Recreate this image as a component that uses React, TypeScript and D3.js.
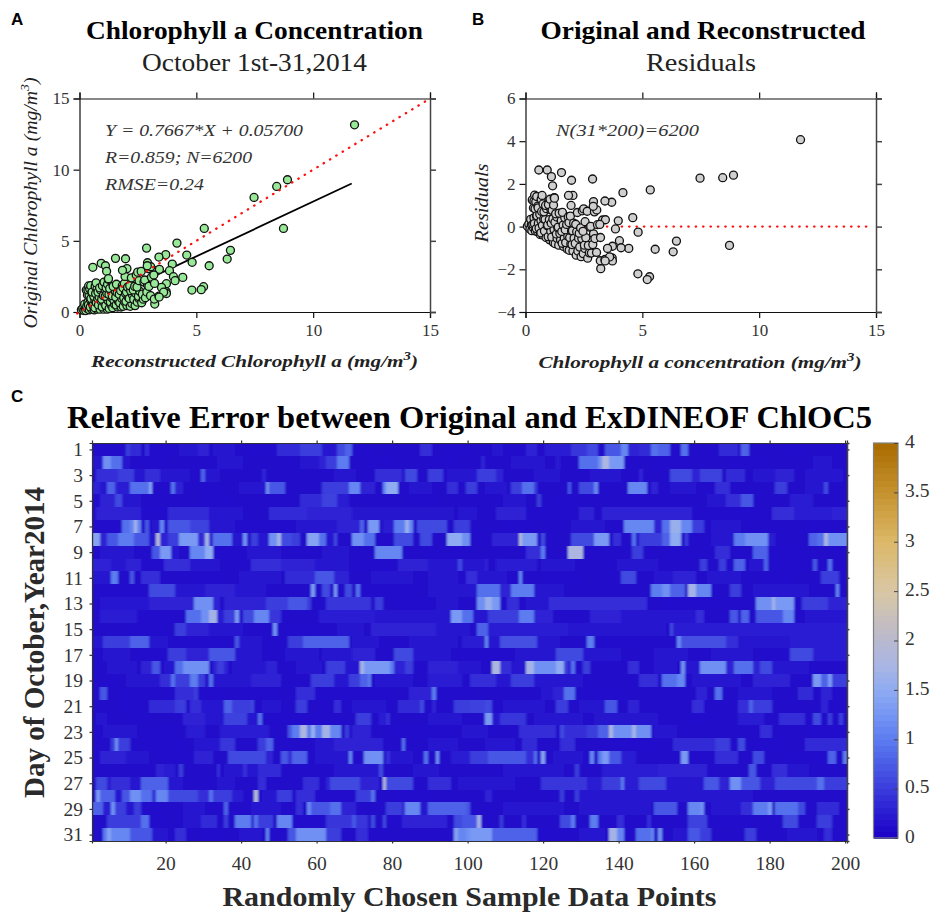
import React, { useEffect, useRef } from 'react';
import * as d3 from 'd3';

const reconstructed = [
  .08,.14, .19,.25,.22, .27,.33,.31,.36,.29, .34, .42,.38,.47,.41,.36,.39,
  .52,.46,.55,.49,.57,.44,.53,.48, .63,.58,.66,.61,.54,.67, .74,.66,.72,.78,.69,.75,.71,
  .88,.81,.93,.84,.79,.9,.86, 1.04,.97,1.08,.95,1.02,1.09,.98,1.05, 1.19,1.12,1.22,1.1,1.17,1.14,1.2,1.23,
  1.27,1.35,1.32,1.38,1.26,1.34,1.29, 1.42,1.5,1.47,1.4,1.53,1.44, 1.63,1.57,1.66,1.55,1.61,1.68,1.58,
  1.78,1.72,1.81,1.7,1.76,1.83, 1.87,1.94,1.89,1.97,1.86,1.92,1.95, 2.03,1.99,2.08,2.01,2.06,
  2.17,2.24,2.13,2.27,2.19,2.15,2.22, 2.38,2.32,2.41,2.3,2.36,2.43, 2.47,2.54,2.52,2.58,2.46,2.55,2.49,
  2.66,2.73,2.69,2.76,2.64, 2.82,2.88,2.91,2.79, 3.04,2.97,3.08,2.95,
  11.77,8.9,8.44,7.47,8.73,5.34,4.17,6.46,6.32,5.55,4.59,4.82,2.87,3.69,3.4,1.54,1.97,.93,.57,1.11,1.16,1.24,
  2.91,3.97,3.85,4.42,4.02,4.09,4.81,5.31,5.21,3.22,3.2,3.4,3.71,3.72,3.51,3.21,3.3,3.05,3.42,3.18,
  2.03,1.84,2.9,3.72,3.6,3.41,
];
const original = [
  .15,.25, .1,.3,.55, .1,.25,.4,.7,1.54, 1.19, .15,.5,.85,1.2,1.55,1.83,
  .2,.35,.6,.95,1.3,1.6,1.4,1.85, .15,.45,.8,1.1,1.4,1.8, .2,.3,.65,.95,1.3,1.65,2.05,
  .2,.5,.75,1.05,1.4,1.55,1.7, .2,.35,.6,.9,1.15,1.6,1.85,2.1, .2,.45,.8,1.1,1.3,1.7,1.95,2.3,
  .25,.5,.7,1,1.25,1.5,1.65, .3,.55,.85,1.15,1.45,1.8, .35,.5,.75,1.05,1.35,1.7,1.95,
  .35,.65,.95,1.25,1.5,1.85, .4,.7,1,1.3,1.7,2,2.5, .45,.75,1.05,1.4,1.75,
  .4,.6,.95,1.2,1.5,1.85,2.4, .45,.9,1.3,1.55,1.8,2.6, .7,.95,1.1,1.45,1.75,2.2,2.8,
  .65,.9,1.25,2.1,2.85, 1,1.4,1.9,2.25, 1.15,1.8,2.45,3.05,
  13.15,9.29,8.82,8.05,5.87,5.87,4.84,4.33,3.72,3.25,4,3.49,4.49,4.03,3.86,3.77,3.74,3.42,3.14,3.25,2.86,2.34,
  3.46,3.37,2.9,2.43,2.48,2.2,1.54,1.78,1.57,.56,.91,1.12,1.43,1.99,1.73,2.01,2.9,3.18,3,2.6,
  3.05,2.93,3.25,1.3,1.39,1.05,
];
const residuals = [
  .02,.12, -.11,.09,.34, -.19,-.04,.11,.41,1.25, .87, -.21,.14,.49,.84,1.19,1.47,
  -.24,-.09,.16,.51,.86,1.16,.96,1.41, -.37,-.07,.28,.58,.88,1.28, -.39,-.29,.06,.36,.71,1.06,1.46,
  -.51,-.21,.04,.34,.69,.84,.99, -.62,-.47,-.22,.08,.33,.78,1.03,1.28, -.74,-.49,-.14,.16,.36,.76,1.01,1.36,
  -.8,-.55,-.35,-.05,.2,.45,.6, -.87,-.62,-.32,-.02,.28,.63, -.93,-.78,-.53,-.23,.07,.42,.67,
  -1.05,-.75,-.45,-.15,.1,.45, -1.11,-.81,-.51,-.21,.19,.49,.99, -1.14,-.84,-.54,-.19,.16,
  -1.34,-1.14,-.79,-.54,-.24,.11,.66, -1.41,-.96,-.56,-.31,-.06,.74, -1.27,-1.02,-.87,-.52,-.22,.23,.83,
  -1.48,-1.23,-.88,-.03,.72, -1.24,-.84,-.34,.01, -1.21,-.56,.09,.69,
  4.07,2.41,2.29,2.27,-.88,1.72,1.59,-.68,-1.18,-1.06,.42,-.26,2.23,1.14,1.2,2.53,2.17,2.65,2.65,2.34,1.91,1.33,
  1.17,.27,-.11,-1.02,-.66,-.99,-2.21,-2.35,-2.48,-1.97,-1.6,-1.54,-1.47,-.92,-1.02,-.51,.31,.78,.32,.1,
  1.46,1.46,.95,-1.61,-1.42,-1.61,
];

const fitLine = [[0, 0.057], [11.65, 9.03]];
const oneToOne = [[-0.1, -0.1], [15, 15]];
const zeroLine = [[0, 0], [14.75, 0]];

const scatterTicks = [0, 5, 10, 15];
const residualTicks = [-4, -2, 0, 2, 4, 6];
const sampleTicks = [20, 40, 60, 80, 100, 120, 140, 160, 180, 200];
const dayTicks = d3.range(1, 32, 2);
const barTicks = [0, 0.5, 1, 1.5, 2, 2.5, 3, 3.5, 4];

const stops = [0, .25, .5, .75, 1, 1.25, 1.5, 1.75, 2, 2.5, 3, 3.5, 4];
const stopColors = ['#1c00c6', '#2a1cd2', '#3a3cdc', '#4a5ce6', '#5c7cf0', '#7595f4', '#8fabf2', '#a9b5e4', '#b9b9d0',
  '#d9c7a4', '#dcb868', '#c6922e', '#a86a00'];

const cellBase = 0.09;
// one list per day: [first column, last column, relative error]
const errorRows: number[][][] = [
  [[16,21,.15],[24,28,.18],[35,38,.2],[10,10,.5],[11,13,.35],[15,15,.4],[29,31,.3],[33,34,.2],[42,49,.15],[50,55,.35],[56,61,.5],[62,65,.2],[66,67,.6],[68,69,.8],[70,75,.15],[88,90,.4],[95,100,.15],[107,109,.2],[116,118,.3],[121,127,.25],[128,131,.45],[132,134,.6],[137,140,.7],[141,142,1.1],[143,145,.3],[146,148,.35],[149,150,.9],[151,153,.8],[157,158,.9],[167,171,.35],[173,174,.8],[185,190,.15]],
  [[1,3,.2],[4,5,1.2],[6,8,.9],[9,10,.2],[14,20,.15],[34,40,.18],[56,60,.2],[61,62,.3],[63,65,.5],[66,68,1],[74,80,.15],[92,97,.15],[104,104,.3],[112,120,.18],[124,124,.25],[130,134,.9],[135,135,1.2],[136,137,1.8],[138,141,1.3],[150,158,.15],[170,178,.15],[192,196,.2]],
  [[2,7,.4],[8,11,.5],[12,14,.2],[15,18,.4],[19,26,.2],[30,30,.8],[31,34,.18],[46,46,.3],[65,70,.18],[76,82,.4],[84,86,.6],[90,93,.5],[95,102,.2],[103,107,.5],[108,109,.3],[118,124,.2],[133,140,.2],[146,146,.3],[154,159,.6],[160,161,.3],[162,167,.55],[169,173,.35],[176,181,.18],[182,186,.3],[190,199,.2]],
  [[1,2,.3],[3,4,.2],[5,6,.8],[7,7,.3],[8,10,.25],[11,15,.9],[16,16,1.4],[22,22,.9],[23,24,.3],[30,33,.15],[40,46,.18],[47,47,1.2],[48,51,.7],[62,68,.5],[69,71,1.1],[72,75,.3],[78,78,1.1],[79,81,1.5],[85,90,.18],[95,97,.4],[100,102,.5],[105,110,.2],[112,114,.5],[115,117,.9],[118,118,.5],[127,127,.7],[130,133,.6],[134,134,1.1],[143,147,1.1],[149,150,.3],[154,160,.2],[166,169,.4],[182,184,.5],[190,194,.18],[195,195,.6]],
  [[3,6,.3],[7,8,.6],[9,13,.2],[30,38,.12],[56,61,.35],[62,65,.55],[66,68,.25],[85,92,.15],[110,115,.2],[119,119,.5],[122,128,.13],[164,168,.2],[169,172,.4],[173,175,.7],[186,191,.25]],
  [[2,13,.3],[14,20,.15],[21,31,.35],[32,40,.2],[48,57,.35],[58,69,.3],[70,96,.16],[98,102,.2],[108,115,.3],[116,128,.15],[130,133,.3],[136,159,.3],[160,180,.13],[181,186,.4],[187,196,.25],[197,200,.3]],
  [[1,8,.15],[9,10,.9],[11,11,1.1],[12,12,1.7],[13,13,1.1],[15,15,.7],[17,18,.2],[19,19,1.1],[21,26,.7],[27,31,.55],[32,38,.2],[40,52,.15],[55,65,.18],[66,71,.3],[72,72,.8],[74,76,1.3],[78,80,.25],[81,83,1],[84,84,1.6],[85,85,1.1],[87,94,.6],[97,100,.5],[110,118,.15],[128,136,.18],[142,149,1.1],[150,151,.3],[152,153,.9],[154,156,1.6],[157,159,1.1],[160,162,.5],[165,172,.2],[190,195,.15]],
  [[1,2,1.4],[3,4,.3],[5,7,.7],[8,11,1],[12,15,.7],[16,17,.2],[18,18,1.9],[19,20,.3],[21,23,.5],[24,28,1.3],[29,29,.3],[30,30,.4],[31,31,1.7],[32,32,.3],[33,37,.9],[38,40,.2],[41,41,1.2],[43,44,.5],[45,47,.18],[48,49,1.2],[50,50,1.7],[51,53,.6],[54,55,.5],[58,60,1.4],[61,62,.9],[63,64,.2],[65,65,.6],[70,72,1.2],[73,75,.9],[81,85,.6],[88,90,.6],[95,98,1.5],[99,100,1.2],[107,113,.3],[114,114,1.9],[115,118,1.3],[120,120,.6],[128,133,.6],[134,137,1.3],[139,140,.4],[144,144,.9],[146,151,.5],[152,153,.8],[154,156,1.5],[158,158,.5],[165,170,.2],[171,173,1],[174,179,1.2],[180,181,.25],[191,192,.8],[193,194,.9],[195,195,1.8],[196,200,1.2]],
  [[3,11,.2],[17,18,.7],[19,21,1.3],[22,23,.2],[27,30,1.1],[31,32,1.5],[33,40,.15],[42,50,.2],[62,68,.18],[76,82,1.1],[90,98,.15],[116,119,.4],[120,120,1],[127,130,1.8],[144,146,.5],[152,160,.15],[166,169,.4],[176,179,.8],[180,190,.15]],
  [[1,5,.3],[6,9,.2],[10,13,.3],[14,20,.15],[20,26,.4],[27,34,.2],[43,50,.4],[51,59,.3],[60,68,.2],[70,80,.15],[82,89,.3],[90,97,.2],[98,98,.6],[99,105,.2],[105,105,.3],[108,118,.25],[120,128,.2],[140,150,.2],[162,163,.5],[167,168,.5],[171,173,.8],[175,178,.2],[179,179,.8],[181,190,.15],[192,192,.7],[196,196,.9]],
  [[1,5,.2],[6,7,1],[11,11,.7],[14,18,.4],[28,34,.15],[40,50,.2],[52,59,.35],[60,64,.7],[65,68,.3],[75,85,.2],[90,97,.18],[100,102,.4],[103,110,.2],[114,114,1.1],[120,130,.13],[141,144,.6],[150,154,.2],[155,160,.3],[164,172,.2],[178,186,.15],[194,198,.5]],
  [[1,14,.13],[16,22,.6],[23,30,.2],[31,38,.3],[39,46,.2],[59,59,1.3],[62,63,.6],[65,65,1.3],[68,69,.6],[71,71,.9],[72,85,.15],[90,102,.2],[103,108,.9],[109,111,.3],[112,117,1],[118,125,.2],[149,151,1],[152,153,1.2],[154,157,.8],[159,160,1.7],[161,164,1.1],[170,172,.5],[176,190,.18],[198,198,1.1]],
  [[3,15,.22],[16,27,.3],[28,32,1.2],[33,34,.3],[36,46,.3],[47,52,.5],[53,57,.7],[58,58,.5],[63,74,.45],[76,77,.5],[81,90,.15],[92,97,.2],[103,104,1.2],[105,106,1.6],[107,108,1.3],[111,113,.4],[116,121,.2],[122,147,.4],[152,165,.15],[177,180,1.2],[181,181,1.7],[182,186,1.3],[189,195,.5],[196,200,.3]],
  [[3,12,.25],[13,22,.15],[26,29,.9],[30,31,1.2],[32,33,1.7],[34,35,.25],[36,38,.5],[39,39,1.3],[41,43,.6],[44,47,1.1],[48,50,.45],[52,60,.1],[61,75,.25],[76,95,.2],[96,98,1.3],[99,99,.9],[100,101,.9],[102,105,.2],[106,113,.5],[114,117,1],[118,122,.3],[133,140,.3],[141,160,.2],[161,162,.4],[170,171,.7],[173,174,.8],[177,183,.7],[184,186,1.1],[190,200,.2]],
  [[10,20,.15],[23,25,.5],[26,31,.3],[32,40,.18],[49,49,1.2],[52,60,.15],[66,72,.2],[75,91,.3],[92,100,.2],[103,105,.8],[106,126,.25],[127,152,.18],[154,154,.6],[155,200,.25]],
  [[1,3,.2],[4,10,.5],[11,15,.8],[16,20,.2],[21,36,.15],[39,39,.7],[40,45,.2],[53,57,.5],[57,68,.8],[70,76,.2],[85,97,.2],[99,104,.25],[105,105,1.1],[106,108,.2],[109,118,.65],[119,124,.2],[132,133,1],[135,145,.15],[156,156,1.1],[157,168,.65],[169,171,.4],[172,185,.2],[186,200,.25]],
  [[4,10,.2],[12,20,.15],[21,25,.5],[26,31,.3],[32,38,.7],[39,45,.2],[52,60,.2],[62,70,.2],[70,75,.3],[81,85,.6],[86,95,.2],[98,110,.15],[113,123,.2],[124,130,.6],[131,140,.2],[150,158,.2],[165,175,.2],[178,185,.15],[186,191,.6],[192,200,.25]],
  [[5,12,.18],[14,16,.3],[17,18,.7],[20,22,.2],[23,24,.9],[25,31,1.2],[33,36,.3],[34,35,.5],[38,46,.2],[47,49,.3],[55,61,.2],[63,67,.5],[68,71,.2],[72,72,1.7],[73,79,1.3],[80,80,1],[81,85,.3],[84,85,.5],[90,97,.3],[98,103,.2],[107,108,1.8],[109,111,.4],[112,115,.2],[116,117,1.7],[118,123,1.2],[124,125,1.5],[126,126,.5],[127,127,.25],[128,128,.9],[131,132,.5],[143,145,.4],[150,155,.2],[157,157,1.2],[158,161,.2],[162,168,1.2],[169,170,.3],[171,175,.9],[176,177,.3],[178,180,.6],[181,190,.2]],
  [[3,8,.12],[10,18,.2],[19,21,.4],[22,22,.9],[23,26,.5],[27,28,1],[29,30,.5],[32,32,.9],[33,42,.2],[43,50,.3],[59,64,.5],[65,68,.2],[69,71,.5],[72,73,.8],[74,74,1],[76,85,.2],[90,98,.25],[101,107,.4],[108,111,.2],[112,117,.5],[118,130,.2],[146,150,.4],[152,155,.9],[156,157,1.1],[160,172,.2],[176,185,.3],[192,193,1.3],[194,195,.8],[196,196,1.3],[197,200,.5]],
  [[3,4,.7],[8,18,.12],[23,27,.4],[28,28,.5],[31,36,.15],[40,50,.15],[55,59,.4],[60,80,.12],[85,90,.3],[91,91,1],[95,100,.15],[120,122,.2],[123,125,.3],[126,128,.9],[130,140,.12],[161,163,.3],[166,167,.9],[172,180,.2],[188,191,.35],[194,196,.3]],
  [[8,14,.12],[16,25,.35],[23,25,.5],[27,29,.4],[30,35,.2],[36,37,.8],[38,43,.5],[43,43,.6],[46,50,.2],[55,57,.5],[65,66,.4],[70,78,.2],[82,88,.35],[88,88,.6],[91,91,.3],[97,100,.5],[101,104,.55],[105,106,.6],[110,120,.2],[124,126,.5],[130,136,.2],[137,139,.7],[143,145,.3],[160,162,.4],[172,174,.4],[175,175,.8],[176,180,.5],[194,195,.3]],
  [[2,4,.2],[10,15,.12],[25,30,.3],[31,35,.2],[36,41,.55],[42,44,.2],[45,45,.9],[48,60,.15],[71,74,.5],[77,78,.25],[79,79,.4],[90,98,.2],[105,106,1.3],[107,108,.2],[109,115,.45],[118,130,.18],[134,150,.16],[158,165,.15],[172,178,.25],[183,189,.4],[192,193,.6],[196,196,.5],[199,199,.5]],
  [[4,12,.2],[15,22,.15],[26,30,.25],[35,47,.25],[53,53,.7],[54,55,1],[56,57,1.8],[58,58,1],[59,59,1.6],[60,61,1],[62,63,1.7],[64,66,1.1],[68,68,.5],[70,74,.3],[80,96,.15],[99,105,.2],[114,123,.4],[125,125,.6],[126,131,.4],[132,134,.5],[135,137,.8],[138,138,1.8],[139,143,1.2],[144,144,1.7],[145,148,1.2],[150,155,.2],[178,180,.4],[190,198,.15]],
  [[6,6,.5],[7,7,1.2],[8,10,.5],[15,25,.15],[28,36,.2],[35,38,.45],[45,46,.5],[47,48,.8],[60,64,.2],[65,77,.3],[83,83,.9],[90,97,.2],[105,112,.2],[115,118,.35],[125,128,.4],[140,150,.15],[155,165,.35],[166,169,.5],[172,173,.6],[176,185,.15],[190,200,.35]],
  [[3,9,.3],[10,15,.18],[20,26,.15],[28,32,.3],[37,46,.6],[47,48,.3],[51,52,.7],[53,53,.4],[54,57,.8],[60,68,.2],[69,69,1.1],[73,77,1.2],[79,79,.4],[80,85,.2],[89,89,.9],[92,92,1.2],[96,100,.25],[101,105,.5],[106,115,.7],[116,118,.4],[118,118,.9],[120,120,1.4],[123,130,.2],[133,133,1.1],[135,135,1],[136,137,1.3],[138,140,.7],[141,144,.25],[157,158,1.3],[166,171,.4],[176,178,.6],[185,195,.15],[196,197,.8],[200,200,1]],
  [[8,14,.1],[18,20,.3],[20,22,.25],[24,24,.5],[34,34,.4],[36,44,.18],[41,41,.4],[45,50,.35],[65,76,.2],[77,77,.6],[86,92,.2],[110,125,.18],[129,129,.5],[136,150,.25],[151,163,.3],[175,176,.7],[181,184,.4],[185,190,.2]],
  [[2,4,.6],[5,6,.25],[6,10,.4],[11,13,.2],[14,20,.8],[21,24,.2],[34,38,.18],[45,46,.4],[57,60,.4],[63,64,.3],[64,71,.6],[72,76,.3],[78,78,1.9],[79,85,.6],[90,95,.4],[98,112,.2],[120,131,.45],[132,135,.25],[136,140,.5],[141,141,1],[142,145,.25],[146,148,.6],[149,152,.6],[153,162,.2],[163,166,.7],[167,169,.3],[170,172,1.2],[173,177,.7],[178,181,.3],[182,192,.6],[193,194,.9],[195,200,.5]],
  [[2,2,1.3],[3,6,.8],[7,8,.2],[9,10,.7],[11,13,1.2],[14,16,.9],[17,17,.4],[18,18,1.1],[19,20,1.1],[21,28,.6],[29,31,.4],[32,32,.9],[33,37,.5],[38,40,.25],[44,44,1.9],[46,50,.2],[50,53,.5],[55,59,.4],[60,70,.15],[71,74,.5],[75,75,.9],[80,90,.15],[105,106,.3],[125,125,.5],[129,129,.5],[130,175,.2]],
  [[1,3,.8],[4,5,.25],[6,6,1.2],[7,9,.5],[10,11,.2],[12,13,.5],[14,18,.15],[25,30,.2],[36,36,.8],[43,50,.2],[55,56,.4],[58,58,1.1],[59,63,.7],[64,66,.9],[67,70,.3],[80,83,.3],[79,82,.5],[84,87,1.1],[88,89,.2],[90,100,.8],[100,100,.7],[110,125,.2],[130,148,.18],[150,155,.7],[159,161,1.1],[162,162,1.2],[165,172,.2],[173,175,.4],[176,179,1],[180,180,1.3],[182,187,.9],[188,189,.6],[193,198,.35]],
  [[5,13,.5],[14,15,.9],[16,20,.15],[25,29,.2],[30,33,.35],[36,36,.5],[39,42,1],[43,44,.3],[44,44,.9],[45,48,.5],[50,53,1.1],[54,62,.13],[63,73,.45],[70,70,.7],[75,75,.6],[78,78,.6],[80,90,.15],[83,94,.3],[97,100,.6],[99,102,.7],[103,103,1.7],[109,109,.5],[115,115,.4],[125,127,.6],[128,128,1],[133,134,1],[140,141,.4],[148,148,.4],[159,163,.55],[165,175,.15],[184,187,.6],[193,196,.5]],
  [[4,4,1],[5,5,1.4],[6,10,1.1],[11,16,.7],[17,20,.2],[23,25,.4],[30,35,.15],[40,45,.2],[47,47,1.1],[53,54,.7],[55,62,1.2],[63,66,.5],[71,73,.4],[97,97,1.4],[98,99,1.1],[100,100,1.2],[101,106,1.3],[107,118,.8],[119,125,.15],[130,136,.2],[138,139,1.7],[140,141,1.1],[145,148,.9],[149,149,1.1],[151,151,1.2],[155,160,.2],[159,161,.7],[162,164,.5],[174,176,.5],[185,192,.18],[195,196,.4]],
];

const SERIF = '"Liberation Serif", serif';
const SANS = '"Liberation Sans", sans-serif';

function addText(g: any, x: number, y: number, str: string, size: number, opts: any = {}) {
  const t = g.append('text')
    .attr('x', x).attr('y', y)
    .attr('font-family', opts.family || SERIF)
    .attr('font-size', size)
    .attr('font-weight', opts.weight || 'normal')
    .attr('font-style', opts.italic ? 'italic' : 'normal')
    .attr('fill', opts.fill || '#000')
    .attr('text-anchor', opts.anchor || 'start');
  if (opts.rotate) t.attr('transform', `rotate(-90 ${x} ${y})`);
  t.append('tspan').text(str);
  if (opts.sup) {
    t.append('tspan').attr('font-size', size * 0.7).attr('dy', -size * 0.42).text('3');
    t.append('tspan').attr('dy', size * 0.42).text(')');
  }
  if (opts.length) t.attr('textLength', opts.length).attr('lengthAdjust', 'spacingAndGlyphs');
  return t;
}

// frame with ticks pointing out on all four sides, labels on bottom and left only
function drawFrame(svg: any, x: any, y: any, xTicks: number[], yTicks: number[], size: number, color: string, fontSize: number, padBottom: number, padLeft: number) {
  const [x0, x1] = x.range();
  const [y1, y0] = y.range();
  const sides = [
    { axis: d3.axisBottom(x).tickValues(xTicks), tr: `translate(0,${y1})`, labels: true, pad: padBottom, color, width: 1.2 },
    { axis: d3.axisTop(x).tickValues(xTicks), tr: `translate(0,${y0})`, labels: false, pad: 2, color, width: 1.2 },
    { axis: d3.axisLeft(y).tickValues(yTicks), tr: `translate(${x0},0)`, labels: true, pad: padLeft, color, width: 1.2 },
    { axis: d3.axisRight(y).tickValues(yTicks), tr: `translate(${x1},0)`, labels: false, pad: 2, color: '#444', width: 1.5 },
  ];
  sides.forEach((s) => {
    const g = svg.append('g').attr('transform', s.tr)
      .call(s.axis.tickSizeOuter(0).tickSize(size).tickPadding(s.pad));
    g.selectAll('path, line').attr('stroke', s.color).attr('stroke-width', s.width);
    g.selectAll('text')
      .attr('font-family', SERIF).attr('font-size', fontSize).attr('fill', '#333')
      .style('display', s.labels ? null : 'none');
  });
}

function Scatter(svg: any, left: number, ys: number[], fill: string, yDomain: number[], yTicks: number[]) {
  const x = d3.scaleLinear().domain([0, 15]).range([left, left + 350.5]);
  const y = d3.scaleLinear().domain(yDomain).range([312, 98.5]);
  drawFrame(svg, x, y, scatterTicks, yTicks, 6, '#111', 17, 6, 4);
  const line = d3.line().x((d: any) => x(d[0])).y((d: any) => y(d[1]));
  const dotted = (pts: number[][]) => svg.append('path')
    .attr('d', line(pts as any)).attr('fill', 'none').attr('stroke', '#ff1010')
    .attr('stroke-width', 2.3).attr('stroke-linecap', 'round').attr('stroke-dasharray', '0.4 7');

  if (fill === '#cfcfcf') dotted(zeroLine);
  else svg.append('path').attr('d', line(fitLine as any)).attr('fill', 'none').attr('stroke', '#000').attr('stroke-width', 1.8);

  svg.append('g').selectAll('circle').data(reconstructed).join('circle')
    .attr('cx', (d: number) => x(d)).attr('cy', (_: number, i: number) => y(ys[i]))
    .attr('r', 4).attr('fill', fill).attr('stroke', '#111').attr('stroke-width', 1.3);

  if (fill !== '#cfcfcf') dotted(oneToOne);
}

function App() {
  const ref = useRef<SVGSVGElement>(null);

  useEffect(() => {
    const svg = d3.select(ref.current);
    svg.selectAll('*').remove();

    // panel letters
    addText(svg, 11, 25, 'A', 17, { family: SANS, weight: 'bold' });
    addText(svg, 472, 25, 'B', 17, { family: SANS, weight: 'bold' });
    addText(svg, 11, 402, 'C', 17, { family: SANS, weight: 'bold' });

    // panel A
    addText(svg, 254.5, 39, 'Chlorophyll a Concentration', 25, { weight: 'bold', anchor: 'middle', length: 337 });
    addText(svg, 254.5, 71, 'October 1st-31,2014', 25, { anchor: 'middle', length: 225, fill: '#222' });
    Scatter(svg, 79.5, original, '#97e897', [0, 15], scatterTicks);
    addText(svg, 105, 136, 'Y = 0.7667*X + 0.05700', 17.5, { italic: true, fill: '#333', length: 198 });
    addText(svg, 105, 163, 'R=0.859; N=6200', 17.5, { italic: true, fill: '#333', length: 147 });
    addText(svg, 105, 190, 'RMSE=0.24', 17.5, { italic: true, fill: '#333', length: 99 });
    addText(svg, 254.5, 367, 'Reconstructed Chlorophyll a (mg/m', 17.5, { italic: true, weight: 'bold', anchor: 'middle', fill: '#222', sup: true, length: 327 });
    addText(svg, 37, 203, 'Original Chlorophyll a (mg/m', 19, { italic: true, anchor: 'middle', rotate: true, fill: '#222', sup: true, length: 251 });

    // panel B
    addText(svg, 703, 39, 'Original and Reconstructed', 25, { weight: 'bold', anchor: 'middle', length: 325 });
    addText(svg, 701, 71, 'Residuals', 25, { anchor: 'middle', length: 110, fill: '#222' });
    Scatter(svg, 525.5, residuals, '#cfcfcf', [-4, 6], residualTicks);
    addText(svg, 556, 136, 'N(31*200)=6200', 17.5, { italic: true, fill: '#333', length: 143 });
    addText(svg, 700, 368, 'Chlorophyll a concentration (mg/m', 17.5, { italic: true, weight: 'bold', anchor: 'middle', fill: '#222', sup: true, length: 323 });
    addText(svg, 488, 203, 'Residuals', 19, { italic: true, anchor: 'middle', rotate: true, fill: '#222', length: 79 });

    // panel C heatmap, slightly softened like the resampled original
    const hx = d3.scaleLinear().domain([0.5, 200.5]).range([92, 847]);
    const hy = d3.scaleLinear().domain([31.5, 0.5]).range([841, 443]);
    const color = d3.scaleLinear<string>().domain(stops).range(stopColors).clamp(true);

    const defs = svg.append('defs');
    defs.append('filter').attr('id', 'soft').attr('x', '-1%').attr('y', '-1%').attr('width', '102%').attr('height', '102%')
      .append('feGaussianBlur').attr('stdDeviation', '0.9 0.4');
    defs.append('clipPath').attr('id', 'heatClip').append('rect')
      .attr('x', 92).attr('y', 443).attr('width', 755).attr('height', 398);

    const cells: { col: number; day: number; v: number }[] = [];
    errorRows.forEach((runs, r) => {
      const row = new Array(200).fill(cellBase);
      runs.forEach(([a, b, v]) => { for (let c = a; c <= b; c++) row[c - 1] = v; });
      row.forEach((v, c) => cells.push({ col: c + 1, day: r + 1, v }));
    });
    const heat = svg.append('g').attr('clip-path', 'url(#heatClip)');
    heat.append('rect').attr('x', 92).attr('y', 443).attr('width', 755).attr('height', 398).attr('fill', color(cellBase));
    heat.append('g').attr('filter', 'url(#soft)').attr('shape-rendering', 'crispEdges')
      .selectAll('rect').data(cells).join('rect')
      .attr('x', (d) => hx(d.col - 0.5)).attr('y', (d) => hy(d.day - 0.5))
      .attr('width', hx(1.5) - hx(0.5) + 0.5).attr('height', hy(1.5) - hy(0.5) + 0.5)
      .attr('fill', (d) => color(d.v));

    drawFrame(svg, hx, hy, sampleTicks, dayTicks, 2.5, '#333', 19.5, 13, 6.5);
    addText(svg, 469.5, 428, 'Relative Error between Original and ExDINEOF ChlOC5', 32, { weight: 'bold', anchor: 'middle', length: 805 });
    addText(svg, 469.5, 906, 'Randomly Chosen Sample Data Points', 27, { weight: 'bold', anchor: 'middle', fill: '#2a2a2a', length: 494 });
    addText(svg, 44, 642.5, 'Day of October,Year2014', 30, { weight: 'bold', anchor: 'middle', rotate: true, fill: '#2a2a2a', length: 311 });

    // colorbar
    const by = d3.scaleLinear().domain([0, 4]).range([838, 443]);
    const levels = d3.range(64);
    svg.append('g').attr('shape-rendering', 'crispEdges').selectAll('rect').data(levels).join('rect')
      .attr('x', 873.5).attr('width', 24.5)
      .attr('y', (d) => by((d + 1) / 16)).attr('height', by(0) - by(1 / 16) + 0.5)
      .attr('fill', (d) => color((d + 0.5) / 16));
    svg.append('rect').attr('x', 873.5).attr('y', 443).attr('width', 24.5).attr('height', 395)
      .attr('fill', 'none').attr('stroke', '#808080').attr('stroke-width', 1.2);
    const barAxis = svg.append('g').attr('transform', 'translate(898,0)')
      .call(d3.axisRight(by).tickValues(barTicks).tickFormat((d) => String(d)).tickSize(-4).tickPadding(7));
    barAxis.select('.domain').remove();
    barAxis.selectAll('line').attr('stroke', '#444');
    barAxis.selectAll('text').attr('font-family', SERIF).attr('font-size', 19.5).attr('fill', '#333').attr('dy', '0.22em');
  }, []);

  return <svg ref={ref} width={930} height={912} style={{ position: 'absolute', left: 0, top: 0, background: '#fff' }} />;
}

export default App;
